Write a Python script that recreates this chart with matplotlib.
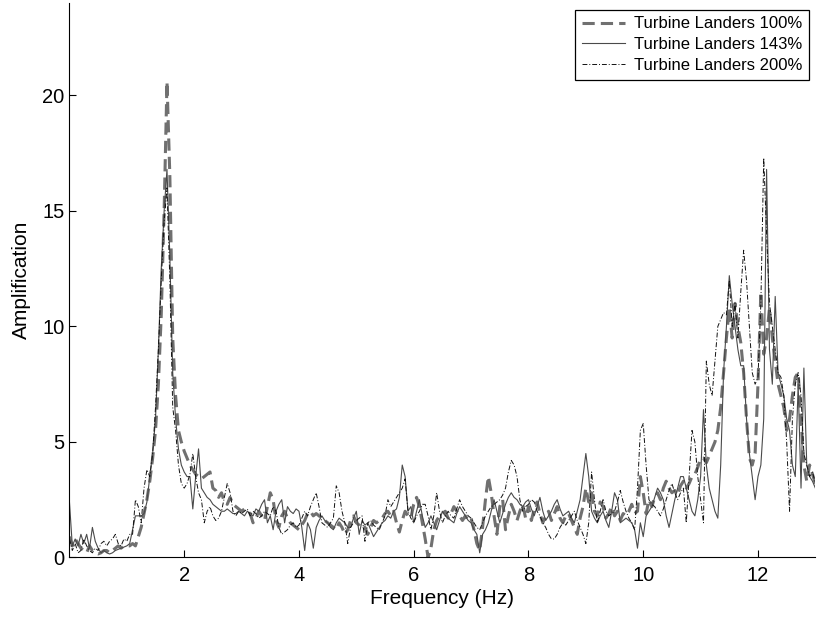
import numpy as np
import matplotlib
matplotlib.use("Agg")
import matplotlib.pyplot as plt

plt.rcParams['font.family'] = ['Liberation Sans', 'DejaVu Sans']

# frequency axis, 0.05 Hz steps from 0 to 13 Hz
freq = np.round(np.arange(0, 261) * 0.05, 2)

# Turbine Landers 100% (dashed)
amp_100 = [
    0.9, 0.5, 0.8, 0.6, 0.4, 0.3, 0.2, 0.5, 0.3, 0.2, 0.15, 0.2, 0.3, 0.3, 0.2, 0.3, 0.4, 0.5, 0.4, 0.5,
    0.5, 0.5, 0.6, 0.5, 0.9, 1.3, 1.9, 2.5, 3.3, 4.3, 5.5, 7.5, 10.5, 15.0, 20.6, 16.5, 9.5, 7.0, 5.5, 5.0,
    4.6, 4.3, 4.0, 3.8, 3.6, 3.5, 3.4, 3.5, 3.6, 3.7, 3.0, 2.9, 2.6, 2.8, 2.4, 2.3, 2.6, 2.3, 2.2, 2.1,
    2.0, 2.1, 2.0, 1.9, 1.5, 1.7, 2.0, 1.8, 1.6, 2.2, 2.8, 2.5, 1.6, 1.3, 1.8, 2.0, 1.7, 1.5, 1.4, 1.3,
    1.2, 1.4, 1.6, 1.9, 2.0, 1.8, 1.9, 1.8, 1.7, 1.6, 1.5, 1.4, 1.3, 1.2, 1.5, 1.3, 1.0, 1.2, 1.6, 1.8,
    1.5, 1.4, 1.2, 1.3, 1.0, 1.3, 1.6, 1.5, 1.6, 1.7, 1.9, 2.0, 1.8, 2.0, 1.5, 1.1, 1.6, 2.0, 1.8, 1.7,
    2.3, 2.6, 2.2, 1.5, 0.8, 0.0, 0.4, 1.2, 1.6, 1.8, 1.9, 2.0, 1.7, 1.9, 2.2, 2.0, 1.8, 1.6, 1.8, 1.6,
    1.7, 1.2, 0.6, 0.3, 1.3, 2.5, 3.5, 2.8, 1.8, 1.0, 2.2, 2.5, 1.2, 1.8, 2.3, 2.0, 1.6, 2.0, 2.3, 1.7,
    2.2, 1.6, 2.1, 2.4, 1.9, 1.5, 1.8, 2.0, 1.6, 1.9, 2.2, 1.7, 1.5, 1.8, 1.9, 1.6, 1.3, 1.0, 1.7, 2.2,
    3.0, 2.4, 2.8, 2.0, 1.8, 2.4, 2.2, 1.7, 1.9, 2.2, 1.8, 2.0, 1.6, 1.9, 1.8, 2.0, 2.3, 1.9, 2.0, 3.5,
    2.8, 1.9, 2.5, 2.2, 2.6, 2.8, 2.5, 3.0, 3.3, 3.0, 2.8, 2.9, 2.7, 3.1, 3.3, 3.0, 3.2, 3.5, 3.6, 3.9,
    4.3, 4.3, 4.1, 4.4, 4.7, 5.0, 5.5, 6.5, 8.0, 9.5, 10.8, 9.5, 11.0, 10.0, 9.3, 8.0, 6.0, 4.3, 4.0, 4.5,
    7.5, 11.5, 8.8, 9.5, 10.8, 9.5, 8.5, 7.5, 7.0, 6.5, 5.5, 6.0, 7.0, 7.8, 8.0, 6.0, 4.0, 3.3, 4.0, 3.6,
    3.2,
]

# Turbine Landers 143% (solid)
amp_143 = [
    2.4, 0.5, 0.8, 0.5, 1.0, 0.6, 1.0, 0.4, 1.3, 0.7, 0.4, 0.2, 0.3, 0.2, 0.15, 0.2, 0.3, 0.35, 0.4, 0.45,
    0.5, 0.6, 1.2, 1.8, 1.8, 1.8, 1.9, 2.4, 3.5, 4.5, 6.0, 9.0, 12.5, 15.0, 16.8, 13.0, 8.0, 6.0, 4.7, 4.0,
    3.7, 3.5, 3.5, 2.1, 3.5, 4.7, 3.0, 2.8, 2.6, 2.5, 2.3, 2.2, 2.1, 2.0, 2.0, 2.1, 2.0, 1.9, 1.9, 2.0,
    1.9, 1.8, 2.0, 1.9, 1.8, 2.1, 2.0, 2.3, 2.5, 1.5, 1.8, 1.2, 2.0, 2.3, 2.5, 1.5, 2.2, 2.0, 1.9, 2.1,
    2.0, 1.3, 0.3, 1.5, 1.2, 0.4, 1.3, 1.6, 1.8, 1.6, 1.5, 1.3, 1.2, 1.5, 1.7, 1.6, 1.5, 1.3, 1.3, 1.7,
    2.0, 1.0, 1.6, 1.4, 1.5, 1.2, 0.9, 1.1, 1.3, 1.5, 1.6, 1.8, 1.7, 2.0, 2.1, 2.6, 4.0, 3.5, 2.0, 2.2,
    1.5, 2.0, 2.5, 1.8, 1.3, 1.5, 1.8, 1.5, 1.2, 1.6, 2.0, 1.8, 1.7, 1.6, 1.5, 1.9, 2.2, 2.0, 1.8, 1.6,
    1.5, 1.2, 1.0, 0.2, 1.0, 1.2, 1.5, 2.0, 2.5, 2.0, 1.5, 1.9, 2.3, 2.6, 2.8, 2.6, 2.5, 2.3, 2.2, 2.4,
    2.5, 2.1, 1.8, 2.2, 2.6, 2.0, 1.6, 1.8, 2.0, 2.3, 2.5, 2.1, 1.8, 1.9, 2.0, 1.7, 1.5, 2.0, 2.5, 3.5,
    4.5, 3.5, 2.0, 1.7, 1.5, 1.8, 2.0, 1.6, 1.3, 2.0, 2.8, 2.5, 1.5, 1.6, 1.7, 1.6, 1.5, 1.2, 0.4, 1.5,
    0.9, 1.8, 2.0, 2.2, 2.6, 3.0, 2.8, 2.5, 1.8, 1.3, 1.9, 2.5, 3.0, 3.5, 3.5, 3.0, 2.5, 2.0, 1.8, 2.5,
    3.5, 6.4, 4.0, 3.0, 2.5, 2.0, 1.7, 4.0, 8.0, 10.0, 12.2, 11.0, 10.0, 9.0, 8.3, 8.3, 6.0, 4.5, 3.5, 2.5,
    3.5, 4.0, 6.0, 16.8, 9.0, 7.5, 11.3, 8.0, 7.5, 7.0, 6.0, 5.5, 4.0, 3.5, 7.5, 3.0, 8.2, 4.0, 3.5, 3.3,
    3.0,
]

# Turbine Landers 200% (dash-dot)
amp_200 = [
    0.8, 0.3, 0.6, 0.2, 0.3, 0.8, 0.5, 0.3, 0.2, 0.4, 0.3, 0.6, 0.7, 0.5, 0.7, 0.8, 1.0, 0.6, 0.5, 0.8,
    0.7, 1.0, 1.0, 2.5, 2.2, 1.5, 3.0, 3.8, 3.5, 4.5, 6.5, 9.0, 12.0, 14.5, 16.0, 12.0, 6.5, 5.5, 4.0, 3.2,
    3.0, 3.2, 3.6, 4.5, 3.5, 2.8, 2.5, 1.5, 2.0, 2.2, 1.8, 1.6, 1.7, 2.0, 2.6, 3.2, 2.8, 2.0, 1.8, 2.0,
    1.9, 2.0, 2.1, 1.8, 2.0, 1.9, 1.7, 1.8, 2.0, 1.9, 1.8, 2.2, 2.0, 1.3, 1.0, 1.1, 1.2, 1.4, 1.5, 1.3,
    1.4, 1.7, 2.0, 1.8, 2.2, 2.5, 2.8, 2.2, 1.5, 1.4, 1.3, 1.5, 1.7, 3.1, 2.8, 2.0, 1.5, 0.6, 1.3, 1.5,
    1.6, 1.7, 1.8, 0.7, 1.5, 1.6, 1.4, 1.3, 1.2, 1.5, 1.8, 2.5, 2.2, 2.4, 2.6, 2.8, 3.0, 3.4, 2.0, 1.7,
    1.5, 1.8, 2.0, 2.3, 2.3, 1.8, 1.2, 1.8, 2.8, 2.0, 1.5, 1.8, 2.0, 1.8, 1.7, 2.1, 2.5, 2.2, 2.0, 1.8,
    1.7, 1.5, 1.3, 1.2, 1.5, 1.8, 2.0, 2.2, 2.3, 2.4, 2.5, 2.7, 3.0, 3.7, 4.2, 4.0, 3.5, 2.5, 2.0, 2.2,
    2.3, 2.5, 2.4, 2.0, 1.8, 1.5, 1.3, 1.0, 0.8, 0.8, 1.0, 1.3, 1.5, 1.4, 1.6, 1.8, 2.0, 1.6, 1.3, 1.0,
    0.6, 1.5, 3.7, 2.5, 1.5, 2.0, 2.5, 2.0, 1.8, 1.9, 2.0, 2.4, 2.9, 2.4, 2.0, 1.7, 1.5, 1.2, 3.0, 5.5,
    5.8, 4.0, 2.5, 2.3, 2.2, 2.0, 1.8, 2.1, 2.5, 2.9, 3.2, 2.8, 2.5, 2.8, 3.0, 1.5, 3.5, 5.5, 5.0, 3.5,
    2.5, 1.5, 8.5, 7.5, 7.0, 8.5, 10.0, 10.3, 10.6, 10.5, 12.0, 10.0, 11.0, 9.5, 11.5, 13.3, 12.0, 10.0, 8.0, 7.5,
    7.8, 11.0, 17.3, 14.0, 11.0, 10.0, 9.0, 8.0, 7.8, 7.0, 5.0, 2.0, 6.0, 7.5, 8.0, 7.0, 4.5, 4.0, 3.5, 3.7,
    3.2,
]

assert len(amp_100) == len(freq) and len(amp_143) == len(freq) and len(amp_200) == len(freq)

fig = plt.figure(figsize=(8.17, 6.18), dpi=100)
ax = fig.add_axes([0.085, 0.098, 0.913, 0.897])

ax.plot(freq, amp_100, color='#707070', linestyle='--', dashes=(4, 2), linewidth=2.2,
        label='Turbine Landers 100%')
ax.plot(freq, amp_143, color='#4a4a4a', linestyle='-', linewidth=0.8,
        label='Turbine Landers 143%')
ax.plot(freq, amp_200, color='#111111', linestyle='-.', dashes=(5, 2, 1, 2), linewidth=0.7,
        label='Turbine Landers 200%')

ax.set_xlim(0, 13)
ax.set_ylim(0, 24)
ax.set_xticks([2, 4, 6, 8, 10, 12])
ax.set_yticks([0, 5, 10, 15, 20])
ax.tick_params(direction='in', length=5, labelsize=14.5, width=0.8)
ax.tick_params(axis='x', pad=6)
ax.spines['top'].set_visible(False)
ax.spines['right'].set_visible(False)

ax.set_xlabel('Frequency (Hz)', fontsize=15, labelpad=3)
ax.set_ylabel('Amplification', fontsize=15, labelpad=8)

leg = ax.legend(loc='upper right', fontsize=12, handlelength=2.6, fancybox=False,
                edgecolor='black', framealpha=1, borderaxespad=0.4, labelspacing=0.35,
                handletextpad=0.5)
leg.get_frame().set_linewidth(0.9)

fig.savefig('out.png', dpi=100)
